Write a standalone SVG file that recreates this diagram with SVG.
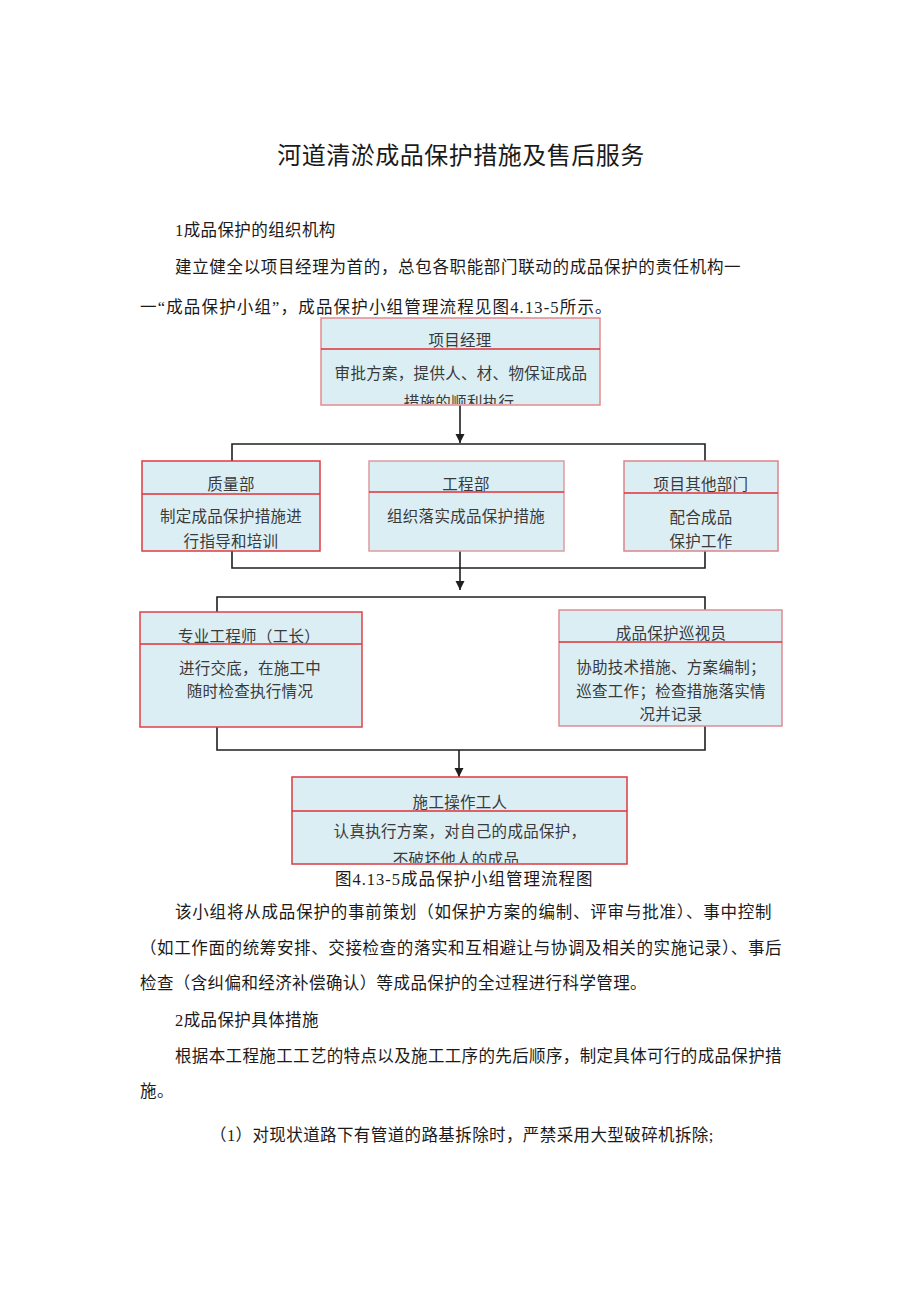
<svg xmlns="http://www.w3.org/2000/svg" width="920" height="1301" viewBox="0 0 920 1301">
<style>
  .p{font-family:"Liberation Serif","Noto Sans CJK SC",serif;font-size:16.5px;fill:#1a1a1a;letter-spacing:0.4px}
  .title{font-family:"Liberation Serif","Noto Sans CJK SC",serif;font-size:24px;fill:#1a1a1a;letter-spacing:0.5px}
  .bt{font-family:"Liberation Serif","Noto Sans CJK SC",serif;font-size:15.5px;fill:#3a3a3a;text-anchor:middle;letter-spacing:0.3px}
  .box{fill:#dbeef4;stroke-width:1.5}
  .div{stroke:#e0303a;stroke-width:1.6;fill:none}
  .con{stroke:#1f1f1f;stroke-width:1.6;fill:none}
</style>
<defs>
  <marker id="arr" markerUnits="userSpaceOnUse" markerWidth="10" markerHeight="10" refX="9" refY="5" orient="auto">
    <path d="M0,0.5 L9,5 L0,9.5 z" fill="#1f1f1f"/>
  </marker>
  <clipPath id="c1"><rect x="321" y="318" width="279" height="86"/></clipPath>
  <clipPath id="c2"><rect x="142" y="461" width="178" height="89"/></clipPath>
  <clipPath id="c4"><rect x="624" y="461" width="154" height="89"/></clipPath>
  <clipPath id="c7"><rect x="292" y="777" width="335" height="86"/></clipPath>
</defs>
<rect width="920" height="1301" fill="#ffffff"/>

<g id="text-top">
  <text class="title" x="461" y="164" text-anchor="middle">河道清淤成品保护措施及售后服务</text>
  <text class="p" x="175" y="236">1成品保护的组织机构</text>
  <text class="p" x="175" y="273" textLength="566" lengthAdjust="spacing">建立健全以项目经理为首的，总包各职能部门联动的成品保护的责任机构一</text>
  <text class="p" x="140" y="313" textLength="472" lengthAdjust="spacing">一“成品保护小组”，成品保护小组管理流程见图4.13-5所示。</text>
</g>

<g id="connectors">
  <path class="con" d="M460 405 V443" marker-end="url(#arr)"/>
  <path class="con" d="M232 461 V444 H705 V461"/>
  <path class="con" d="M232 551 V568 H705 V551"/>
  <path class="con" d="M460 551 V590" marker-end="url(#arr)"/>
  <path class="con" d="M217 612 V597 H705 V610"/>
  <path class="con" d="M217 727 V750 H705 V726"/>
  <path class="con" d="M459 750 V777" marker-end="url(#arr)"/>
</g>

<g id="node-pm">
  <rect class="box" x="321" y="318" width="279" height="87" stroke="#e58a8e"/>
  <g clip-path="url(#c1)">
    <text class="bt" x="460" y="346">项目经理</text>
    <text class="bt" x="461" y="379">审批方案，提供人、材、物保证成品</text>
    <text class="bt" x="459" y="408">措施的顺利执行</text>
  </g>
  <path class="div" d="M321 349 H600"/>
</g>

<g id="node-quality">
  <rect class="box" x="142" y="461" width="178" height="90" stroke="#e03a40"/>
  <g clip-path="url(#c2)">
    <text class="bt" x="231" y="490">质量部</text>
    <text class="bt" x="231" y="522">制定成品保护措施进</text>
    <text class="bt" x="231" y="547">行指导和培训</text>
  </g>
  <path class="div" d="M142 494 H320"/>
</g>

<g id="node-eng">
  <rect class="box" x="369" y="461" width="195" height="90" stroke="#dc9ca0"/>
  <text class="bt" x="466" y="490">工程部</text>
  <text class="bt" x="466" y="522">组织落实成品保护措施</text>
  <path class="div" d="M369 492 H564"/>
</g>

<g id="node-other">
  <rect class="box" x="624" y="461" width="154" height="90" stroke="#dc848c"/>
  <g clip-path="url(#c4)">
    <text class="bt" x="701" y="490">项目其他部门</text>
    <text class="bt" x="701" y="523">配合成品</text>
    <text class="bt" x="701" y="547">保护工作</text>
  </g>
  <path class="div" d="M624 493 H778"/>
</g>

<g id="node-engineer">
  <rect class="box" x="140" y="612" width="222" height="115" stroke="#e0404a"/>
  <text class="bt" x="249" y="642">专业工程师（工长）</text>
  <text class="bt" x="250" y="674">进行交底，在施工中</text>
  <text class="bt" x="250" y="697">随时检查执行情况</text>
  <path class="div" d="M140 644 H362"/>
</g>

<g id="node-inspector">
  <rect class="box" x="559" y="610" width="223" height="116" stroke="#e08a92"/>
  <text class="bt" x="671" y="639">成品保护巡视员</text>
  <text class="bt" x="671" y="673">协助技术措施、方案编制；</text>
  <text class="bt" x="671" y="697">巡查工作；检查措施落实情</text>
  <text class="bt" x="671" y="720">况并记录</text>
  <path class="div" d="M559 642 H782"/>
</g>

<g id="node-worker">
  <rect class="box" x="292" y="777" width="335" height="87" stroke="#dd3a42"/>
  <g clip-path="url(#c7)">
    <text class="bt" x="460" y="808">施工操作工人</text>
    <text class="bt" x="460" y="837">认真执行方案，对自己的成品保护，</text>
    <text class="bt" x="456" y="865">不破坏他人的成品</text>
  </g>
  <path class="div" d="M292 811 H627"/>
</g>

<g id="text-bottom">
  <text class="p" x="335" y="885" textLength="258" lengthAdjust="spacing">图4.13-5成品保护小组管理流程图</text>
  <text class="p" x="175" y="918" textLength="597" lengthAdjust="spacing">该小组将从成品保护的事前策划（如保护方案的编制、评审与批准）、事中控制</text>
  <text class="p" x="140" y="954" textLength="642" lengthAdjust="spacing">（如工作面的统筹安排、交接检查的落实和互相避让与协调及相关的实施记录）、事后</text>
  <text class="p" x="140" y="989">检查（含纠偏和经济补偿确认）等成品保护的全过程进行科学管理。</text>
  <text class="p" x="175" y="1026">2成品保护具体措施</text>
  <text class="p" x="175" y="1062" textLength="607" lengthAdjust="spacing">根据本工程施工工艺的特点以及施工工序的先后顺序，制定具体可行的成品保护措</text>
  <text class="p" x="140" y="1097">施。</text>
  <text class="p" x="210" y="1141">（1）对现状道路下有管道的路基拆除时，严禁采用大型破碎机拆除;</text>
</g>
</svg>
